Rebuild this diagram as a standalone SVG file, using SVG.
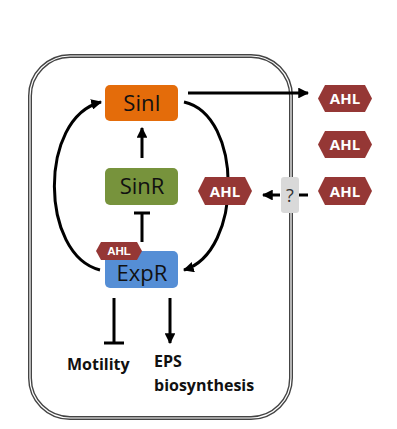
<svg xmlns="http://www.w3.org/2000/svg" width="397" height="429" viewBox="0 0 397 429">
<style>
.box text{font-family:"Open Sans","Noto Sans",sans-serif;font-size:22px;fill:#111;text-anchor:middle}
.ahl polygon{fill:#953735}
.ahl text{font-family:"Open Sans","Noto Sans",sans-serif;font-weight:bold;fill:#fff;text-anchor:middle}
.ln{fill:none;stroke:#000;stroke-width:3}
.lbl{font-family:"Open Sans","Noto Sans",sans-serif;font-weight:bold;font-size:16px;fill:#111}
</style>
<defs>
<marker id="ah" viewBox="0 0 10 10" refX="9" refY="5" markerWidth="3.6" markerHeight="3.6" orient="auto" markerUnits="strokeWidth">
<path d="M0,0 L10,5 L0,10 z" fill="#000"/>
</marker>
</defs>
<rect width="397" height="429" fill="#fff"/>
<g id="cell">
<rect x="30" y="56" width="261" height="362" rx="40" fill="none" stroke="#444" stroke-width="4"/>
<rect x="30" y="56" width="261" height="362" rx="40" fill="none" stroke="#fff" stroke-width="1.2"/>
</g>
<g id="connectors">
<path class="ln" d="M188,93 L308,93" marker-end="url(#ah)"/>
<path class="ln" d="M142,158 L142,128" marker-end="url(#ah)"/>
<path class="ln" d="M142,242 L142,213 M134,213 L150,213"/>
<path class="ln" d="M100,270 C40,255 38,118 101,102" marker-end="url(#ah)"/>
<path class="ln" d="M184,102 C243,115 243,252 184,270" marker-end="url(#ah)"/>
<path class="ln" d="M280,195 L263,195" marker-end="url(#ah)"/>
<path class="ln" d="M297,195 L308,195"/>
<path class="ln" d="M114,298 L114,343 M104,343 L124,343"/>
<path class="ln" d="M170,298 L170,343" marker-end="url(#ah)"/>
</g>
<g id="question">
<rect x="281" y="177" width="18" height="36" rx="3" fill="#d9d9d9"/>
<text x="290" y="202" font-family="'Open Sans','Noto Sans',sans-serif" font-size="18" fill="#333" text-anchor="middle">?</text>
</g>
<g id="SinI" class="box">
<rect x="105" y="85" width="73" height="36" rx="5" fill="#e46c0a"/>
<text x="142" y="111">SinI</text>
</g>
<g id="SinR" class="box">
<rect x="105" y="168" width="73" height="37" rx="5" fill="#77933c"/>
<text x="142" y="194">SinR</text>
</g>
<g id="ExpR" class="box">
<rect x="105" y="251" width="73" height="37" rx="5" fill="#558ed5"/>
<text x="142" y="281" font-size="21.5">ExpR</text>
</g>
<g id="AHL_ExpR" class="ahl">
<polygon points="96,251 101,242 137,242 142,251 137,260 101,260"/>
<text x="119" y="254.5" style="font-family:'Liberation Sans',Arial,sans-serif;font-size:11.5px">AHL</text>
</g>
<g id="AHL_out1" class="ahl">
<polygon points="318,98.5 325,85 365,85 372,98.5 365,112 325,112"/>
<text x="345" y="104" font-size="15">AHL</text>
</g>
<g id="AHL_out2" class="ahl">
<polygon points="318,144.5 325,131 365,131 372,144.5 365,158 325,158"/>
<text x="345" y="150" font-size="15">AHL</text>
</g>
<g id="AHL_out3" class="ahl">
<polygon points="318,191 325,177 365,177 372,191 365,205 325,205"/>
<text x="345" y="196.5" font-size="15">AHL</text>
</g>
<g id="AHL_in" class="ahl">
<polygon points="198,191 205,177 245,177 252,191 245,205 205,205"/>
<text x="225" y="196.5" font-size="15">AHL</text>
</g>
<g id="Motility"><text class="lbl" x="67" y="370">Motility</text></g>
<g id="EPS"><text class="lbl" x="154" y="367">EPS</text><text class="lbl" x="154" y="391">biosynthesis</text></g>
</svg>
